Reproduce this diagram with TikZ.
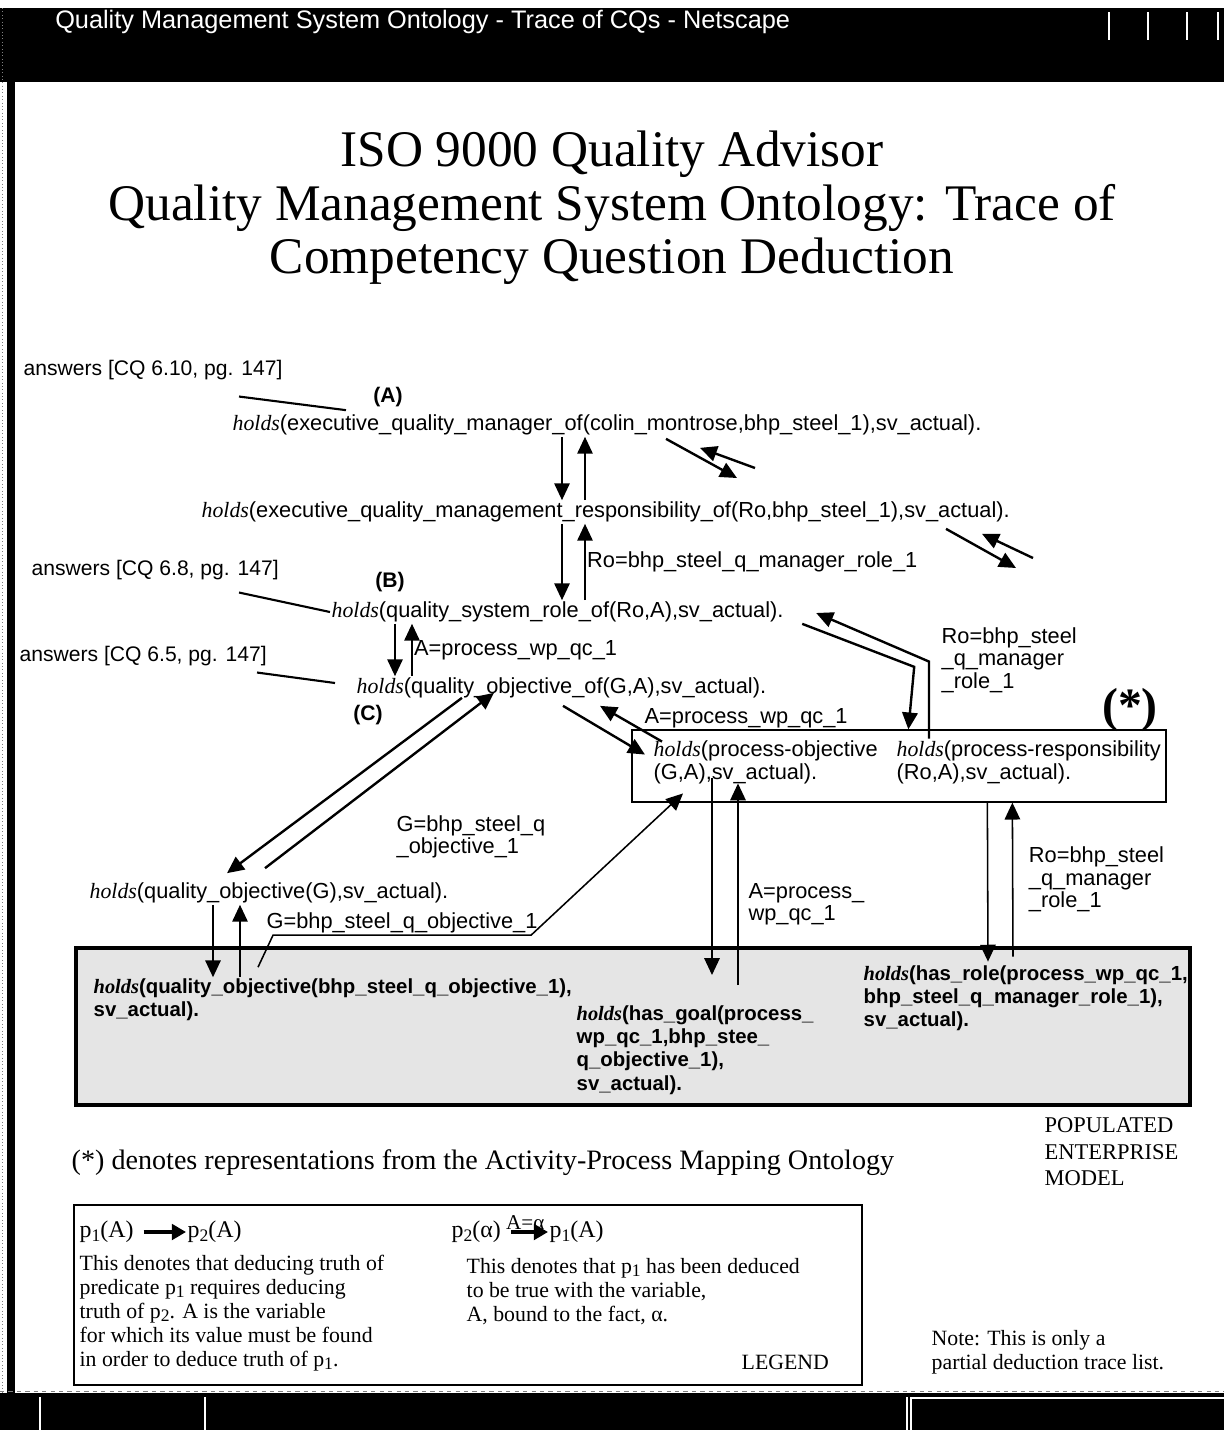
\documentclass[tikz,border=0pt]{standalone}
\usepackage{fontspec}
\setmainfont{Liberation Serif}
\setsansfont{Liberation Sans}
\usepackage{tikz}
\usetikzlibrary{arrows.meta,fit}

\newcommand{\holds}{{\rmfamily\itshape holds}}
\newcommand{\holdsb}{{\rmfamily\bfseries\itshape holds}}
\newcommand{\psub}[1]{\raisebox{-0.3ex}{\fontsize{12.5}{12.5}\selectfont #1}}

\begin{document}
\begin{tikzpicture}[x=0.025cm,y=-0.025cm,
      stmt/.style={font=\sffamily\fontsize{15.5}{16.5}\selectfont,
                   inner sep=1pt,anchor=west},
      ans/.style={font=\sffamily\fontsize{15}{18}\selectfont,
                  inner sep=1pt,anchor=west},
      tag/.style={font=\sffamily\bfseries\fontsize{15}{18}\selectfont,
                  inner sep=1pt},
      lbl/.style={font=\sffamily\fontsize{15.5}{16}\selectfont,
                  align=left,inner sep=1pt},
      fact/.style={font=\sffamily\bfseries\fontsize{14.5}{16.5}\selectfont,
                   align=left,inner sep=1pt,anchor=west},
      legtxt/.style={font=\rmfamily\fontsize{15.5}{17}\selectfont,
                     align=left,inner sep=1pt,anchor=west},
      legsym/.style={font=\rmfamily\fontsize{17}{17}\selectfont,
                     inner sep=1pt,anchor=west},
      arr/.style={-{Triangle[length=12pt,width=11pt]},line width=1.1pt},
      darr/.style={arr,line width=1.7pt},
      legarr/.style={-{Triangle[length=10pt,width=11pt]},line width=2.4pt},
      ansline/.style={line width=1.5pt}]
    \useasboundingbox (0,0) rectangle (1224,1430);
    \fill[white] (0,0) rectangle (1224,1430);

    % window frame
    \fill[black] (0,8) rectangle (1224,82);
    \node[font=\sffamily\fontsize{18}{18}\selectfont,text=white,
          inner sep=0pt,anchor=west] (wintitle) at (55,22)
      {Quality Management System Ontology - Trace of CQs - Netscape};
    \foreach \bx in {1109,1148,1187,1218}
      \draw[white,line width=1pt] (\bx,12) -- (\bx,40);
    \draw[line width=5pt] (11,82) -- (11,1393);
    \draw[gray,dotted] (2,8) -- (2,1430);
    \fill[black] (0,1393) rectangle (1224,1430);
    \draw[gray,dashed] (0,1391) -- (1224,1391);
    \foreach \bx in {40,205,907,911}
      \draw[white,line width=0.8pt] (\bx,1397) -- (\bx,1430);
    \draw[white,line width=0.8pt] (911,1398) -- (1224,1398);

    % title
    \node[font=\rmfamily\fontsize{36.5}{38}\selectfont,align=center]
      (title) at (612,208)
      {ISO 9000 Quality Advisor\\
       Quality Management System Ontology: Trace of\\
       Competency Question Deduction};

    % deduction chain
    \node[ans] (ansA) at (22,370) {answers [CQ 6.10, pg. 147]};
    \node[tag] (tagA) at (388,397) {(A)};
    \node[stmt] (A) at (231,425)
      {\holds(executive\_quality\_manager\_of(colin\_montrose,bhp\_steel\_1),sv\_actual).};
    \node[stmt] (E) at (200,512)
      {\holds(executive\_quality\_management\_responsibility\_of(Ro,bhp\_steel\_1),sv\_actual).};
    \node[ans] (ansB) at (30,570) {answers [CQ 6.8, pg. 147]};
    \node[tag] (tagB) at (390,582) {(B)};
    \node[stmt] (B) at (330,612)
      {\holds(quality\_system\_role\_of(Ro,A),sv\_actual).};
    \node[ans] (ansC) at (18,656) {answers [CQ 6.5, pg. 147]};
    \node[stmt] (C) at (355,688)
      {\holds(quality\_objective\_of(G,A),sv\_actual).};
    \node[tag] (tagC) at (368,715) {(C)};
    \node[stmt] (QO) at (88,893)
      {\holds(quality\_objective(G),sv\_actual).};

    % activity-process mapping
    \node[stmt,align=left] (PO) at (652,762)
      {\holds(process-objective\\(G,A),sv\_actual).};
    \node[stmt,align=left] (PR) at (895,762)
      {\holds(process-responsibility\\(Ro,A),sv\_actual).};
    \node[draw,line width=0.9pt,inner sep=0pt,fit={(632,730) (1166,802)}] (apm) {};
    \node[font=\rmfamily\bfseries\fontsize{34}{34}\selectfont,inner sep=0pt]
      (star) at (1130,710) {(*)};
    \node[lbl,anchor=west] (aPO) at (643,718) {A=process\_wp\_qc\_1};
    \node[lbl,anchor=west] (roB) at (940,660)
      {Ro=bhp\_steel\\\_q\_manager\\\_role\_1};
    \node[lbl,anchor=west] (gC) at (395,837)
      {G=bhp\_steel\_q\\\_objective\_1};

    % populated enterprise model
    \node[draw,fill=black!10,line width=2.6pt,inner sep=0pt,
          fit={(76,948) (1190,1105)}] (pem) {};
    \node[fact] (F1) at (92,1000)
      {\holdsb(quality\_objective(bhp\_steel\_q\_objective\_1),\\sv\_actual).};
    \node[fact] (F2) at (575,1050)
      {\holdsb(has\_goal(process\_\\wp\_qc\_1,bhp\_stee\_\\q\_objective\_1),\\sv\_actual).};
    \node[fact] (F3) at (862,998)
      {\holdsb(has\_role(process\_wp\_qc\_1,\\bhp\_steel\_q\_manager\_role\_1),\\sv\_actual).};
    \node[font=\rmfamily\fontsize{16}{18.8}\selectfont,align=left,
          inner sep=1pt,anchor=west] (pemlbl) at (1043,1152)
      {POPULATED\\ENTERPRISE\\MODEL};

    % answer lines
    \draw[ansline] ([shift={(217,15)}]ansA.south west) -- ([shift={(115,-3)}]A.north west);
    \draw[ansline] ([shift={(209,11)}]ansB.south west) -- (B.west);
    \draw[ansline] ([shift={(239,5)}]ansC.south west) -- ([shift={(-20,-5)}]C.west);

    % vertical pairs
    \coordinate (dn) at (562,0);
    \coordinate (up) at (585,0);
    \draw[arr] (dn |- A.south) -- (dn |- E.north);
    \draw[arr] (up |- E.north) -- (up |- A.south);
    \draw[arr] (dn |- E.south) -- (dn |- B.north);
    \draw[arr] (up |- B.north) -- node[lbl,right] {Ro=bhp\_steel\_q\_manager\_role\_1} (up |- E.south);
    \coordinate (dn2) at (395,0);
    \coordinate (up2) at (412,0);
    \draw[arr] (dn2 |- B.south) -- (dn2 |- C.north);
    \draw[arr] (up2 |- C.north) -- node[lbl,right] {A=process\_wp\_qc\_1} (up2 |- B.south);
    \coordinate (dn3) at (213,0);
    \coordinate (up3) at (240,0);
    \draw[arr] (dn3 |- QO.south) -- (dn3 |- F1.north);
    \draw[arr] (up3 |- F1.north) -- (up3 |- QO.south);

    % open branches
    \coordinate (freeA1) at (737,478);
    \coordinate (freeA2) at (755,468);
    \draw[darr] ([shift={(435,2)}]A.south west) -- (freeA1);
    \draw[darr] (freeA2) -- ([shift={(469,11)}]A.south west);
    \coordinate (freeE1) at (1016,568);
    \coordinate (freeE2) at (1033,558);
    \draw[darr] ([shift={(746,5)}]E.south west) -- (freeE1);
    \draw[darr] (freeE2) -- ([shift={(782,10)}]E.south west);

    % B <-> process-responsibility
    \draw[darr] ([shift={(17,0)}]B.south east) -- ++(112,43) -- ([shift={(277,0)}]apm.north west);
    \draw[darr] ([shift={(34,0)}]PR.north west) -- ++(0,-77) -- ([shift={(31,1)}]B.east);

    % C <-> process-objective
    \draw[darr] ([shift={(208,6)}]C.south west) -- ([shift={(-7,16)}]PO.north west);
    \draw[darr] ([shift={(10,3)}]PO.north west) -- ([shift={(245,6)}]C.south west);

    % C <-> quality_objective
    \draw[darr] ([shift={(107,-2)}]C.south west) -- ([shift={(139,-8)}]QO.north west);
    \draw[darr] ([shift={(177,-13)}]QO.north west) -- ([shift={(139,-7)}]C.south west);

    % facts -> mapping
    \draw[arr] ([shift={(166,-10)}]F1.north west) -- ++(15,-32)
      -- node[lbl,above] {G=bhp\_steel\_q\_objective\_1} ++(258,0)
      -- ([shift={(31,8)}]PO.south west);
    \draw[arr] ([shift={(60,-7)}]PO.south west) -- ([shift={(137,-29)}]F2.north west);
    \draw[arr] ([shift={(163,-19)}]F2.north west)
      -- node[lbl,right,pos=0.4,xshift=6pt] {A=process\_\\wp\_qc\_1}
      ([shift={(86,-2)}]PO.south west);
    \draw[arr] ([shift={(356,0)}]apm.south west) -- ([shift={(126,-2)}]F3.north west);
    \draw[arr] ([shift={(151,-7)}]F3.north west)
      -- node[lbl,right,xshift=10pt] {Ro=bhp\_steel\\\_q\_manager\\\_role\_1}
      ([shift={(381,0)}]apm.south west);

    % notes and legend
    \node[font=\rmfamily\fontsize{20}{20}\selectfont,inner sep=1pt,anchor=west]
      (starnote) at (70,1163)
      {(*) denotes representations from the Activity-Process Mapping Ontology};
    \node[draw,line width=0.9pt,inner sep=0pt,fit={(74,1205) (862,1385)}] (legend) {};
    \node[legsym] (lp1) at (78,1232) {p\psub{1}(A)};
    \node[legsym] (lp2) at (186,1232) {p\psub{2}(A)};
    \draw[legarr,shorten <=6pt] (lp1) -- (lp2);
    \node[legtxt] (ldesc1) at (78,1313)
      {This denotes that deducing truth of\\
       predicate p\psub{1} requires deducing\\
       truth of p\psub{2}. A is the variable\\
       for which its value must be found\\
       in order to deduce truth of p\psub{1}.};
    \node[legsym] (lq2) at (450,1232) {p\psub{2}(α)};
    \node[legsym] (lq1) at (548,1232) {p\psub{1}(A)};
    \draw[legarr,shorten <=6pt] (lq2) -- node[above=-3pt,font=\rmfamily\fontsize{15}{15}\selectfont] {A=α} (lq1);
    \node[legtxt] (ldesc2) at (465,1292)
      {This denotes that p\psub{1} has been deduced\\
       to be true with the variable,\\
       A, bound to the fact, α.};
    \node[legtxt] (legname) at (740,1362) {LEGEND};
    \node[legtxt] (note) at (930,1352)
      {Note: This is only a\\partial deduction trace list.};
  \end{tikzpicture}
\end{document}
